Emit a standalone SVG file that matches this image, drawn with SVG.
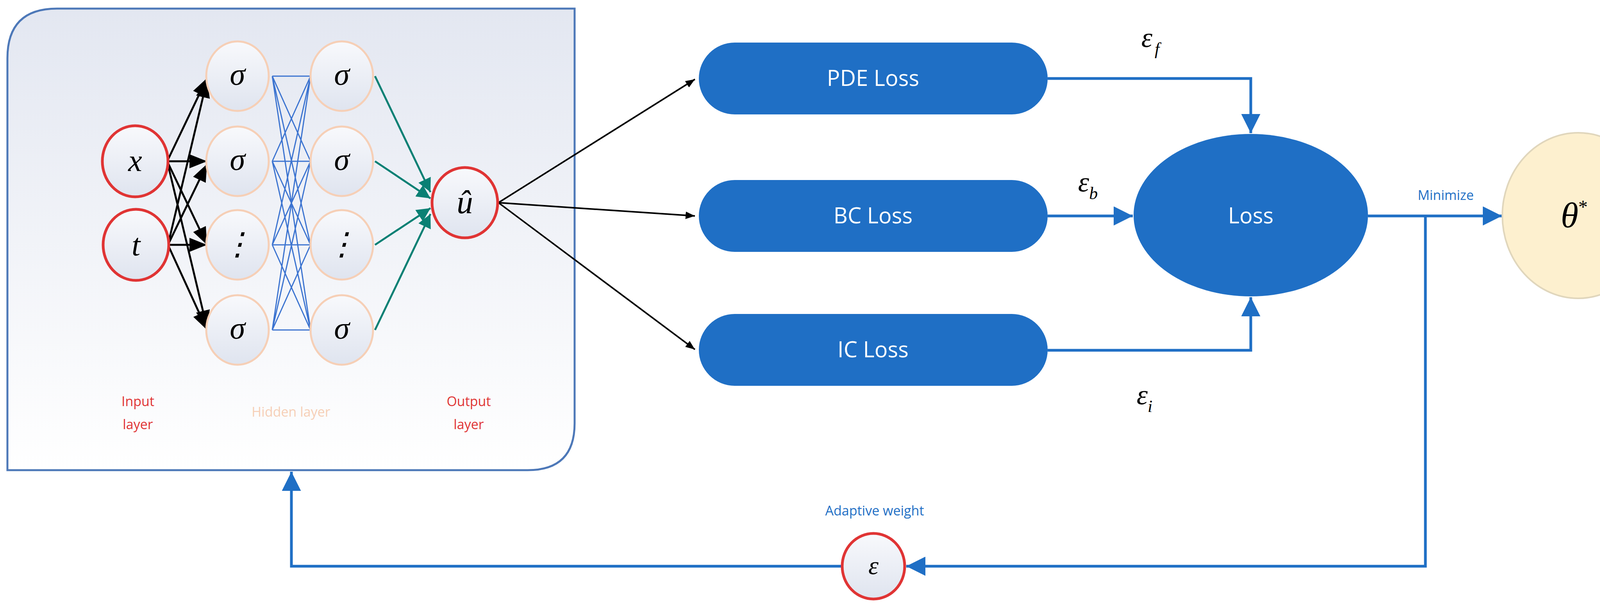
<svg xmlns="http://www.w3.org/2000/svg" width="4247" height="1557" viewBox="0 0 4247 1557">
<defs>
<linearGradient id="pg" x1="0" y1="0" x2="0" y2="1"><stop offset="0" stop-color="#e3e7f1"/><stop offset="1" stop-color="#ffffff"/></linearGradient>
<linearGradient id="ng" x1="0" y1="0" x2="0" y2="1"><stop offset="0" stop-color="#f8f9fc"/><stop offset="1" stop-color="#dfe4ef"/></linearGradient>
<marker id="ab" viewBox="0 0 10 10" refX="10" refY="5" markerWidth="6" markerHeight="6" orient="auto" markerUnits="strokeWidth"><path d="M0,1 L10,5 L0,9 z" fill="#000"/></marker>
<marker id="abk" viewBox="0 0 10 10" refX="10" refY="5" markerWidth="9" markerHeight="9" orient="auto" markerUnits="strokeWidth"><path d="M0,1 L10,5 L0,9 z" fill="#000"/></marker>
<marker id="at" viewBox="0 0 10 10" refX="10" refY="5" markerWidth="7" markerHeight="7" orient="auto" markerUnits="strokeWidth"><path d="M0,0 L10,5 L0,10 z" fill="#0a8074"/></marker>
<marker id="abl" viewBox="0 0 10 10" refX="10" refY="5" markerWidth="7" markerHeight="7" orient="auto" markerUnits="strokeWidth"><path d="M0,0 L10,5 L0,10 z" fill="#1f6fc5"/></marker>
</defs>
<style>
.io{fill:url(#ng);stroke:#e03434;stroke-width:7}
.hd{fill:url(#ng);stroke:#f6cfb6;stroke-width:5}
.m{font-family:"Liberation Serif",serif;font-style:italic;fill:#000;text-anchor:middle}
.box{fill:#1f6fc5}
.wt{font-family:"Open Sans","Liberation Sans",sans-serif;fill:#fff;font-size:56px;text-anchor:middle}
.lbl{font-family:"Open Sans","Liberation Sans",sans-serif;font-size:34px;text-anchor:middle}
.blu{stroke:#1f6fc5;stroke-width:7;fill:none}
.hl{stroke:#3b73d0;stroke-width:3;fill:none}
</style>
<rect width="4247" height="1557" fill="#fff"/>
<g id="panel">
<path d="M19,1204 V149 Q19,22 146,22 H1471 V1084 Q1471,1204 1351,1204 Z" fill="url(#pg)" stroke="#4d78b8" stroke-width="5"/>
</g>
<g id="connectors">
<g stroke="#000" stroke-width="5" marker-end="url(#abk)">
<line x1="428" y1="413" x2="530" y2="200"/><line x1="428" y1="413" x2="530" y2="413"/><line x1="428" y1="413" x2="530" y2="627"/><line x1="428" y1="413" x2="530" y2="840"/>
<line x1="430" y1="627" x2="530" y2="205"/><line x1="430" y1="627" x2="530" y2="420"/><line x1="430" y1="627" x2="530" y2="627"/><line x1="430" y1="627" x2="530" y2="845"/>
</g>
<g class="hl">
<path d="M697,195 L795,195 M697,413 L795,413 M697,627 L795,627 M697,845 L795,845
M697,195 L795,413 M697,195 L795,627 M697,195 L795,845
M697,413 L795,195 M697,413 L795,627 M697,413 L795,845
M697,627 L795,195 M697,627 L795,413 M697,627 L795,845
M697,845 L795,195 M697,845 L795,413 M697,845 L795,627"/>
</g>
<g stroke="#0a8074" stroke-width="5" marker-end="url(#at)">
<line x1="960" y1="195" x2="1102" y2="492"/><line x1="960" y1="413" x2="1102" y2="508"/><line x1="960" y1="627" x2="1102" y2="533"/><line x1="960" y1="845" x2="1102" y2="548"/>
</g>
<g stroke="#000" stroke-width="4" marker-end="url(#ab)">
<line x1="1276" y1="519" x2="1779" y2="203"/><line x1="1276" y1="519" x2="1779" y2="553"/><line x1="1276" y1="519" x2="1779" y2="895"/>
</g>
<g class="blu" marker-end="url(#abl)">
<path d="M2682,201 H3202 V341"/>
<path d="M2682,553 H2900"/>
<path d="M2682,897 H3202 V761"/>
<path d="M3502,553 H3845"/>
<path d="M3649,553 V1450 H2320"/>
<path d="M2155,1450 H746 V1208"/>
</g>
</g>
<g id="n-x"><ellipse class="io" cx="346" cy="413" rx="84" ry="91"/><text class="m" x="346" y="438" font-size="80">x</text></g>
<g id="n-t"><ellipse class="io" cx="348" cy="627" rx="84" ry="91"/><text class="m" x="348" y="654" font-size="80">t</text></g>
<g id="hidden">
<ellipse class="hd" cx="608" cy="195" rx="80" ry="89"/><text class="m" x="608" y="217" font-size="80">σ</text>
<ellipse class="hd" cx="608" cy="413" rx="80" ry="89"/><text class="m" x="608" y="435" font-size="80">σ</text>
<ellipse class="hd" cx="608" cy="627" rx="80" ry="89"/><text class="m" x="608" y="652" font-size="80" font-style="normal">⋮</text>
<ellipse class="hd" cx="608" cy="845" rx="80" ry="89"/><text class="m" x="608" y="867" font-size="80">σ</text>
<ellipse class="hd" cx="875" cy="195" rx="80" ry="89"/><text class="m" x="875" y="217" font-size="80">σ</text>
<ellipse class="hd" cx="875" cy="413" rx="80" ry="89"/><text class="m" x="875" y="435" font-size="80">σ</text>
<ellipse class="hd" cx="875" cy="627" rx="80" ry="89"/><text class="m" x="875" y="652" font-size="80" font-style="normal">⋮</text>
<ellipse class="hd" cx="875" cy="845" rx="80" ry="89"/><text class="m" x="875" y="867" font-size="80">σ</text>
</g>
<g id="n-u"><ellipse class="io" cx="1190" cy="519" rx="84" ry="90"/><text class="m" x="1190" y="546" font-size="84">û</text></g>
<g id="layer-labels">
<text class="lbl" fill="#e03434" x="353" y="1040">Input</text><text class="lbl" fill="#e03434" x="353" y="1099">layer</text>
<text class="lbl" fill="#f6cfb6" x="745" y="1067">Hidden layer</text>
<text class="lbl" fill="#e03434" x="1200" y="1040">Output</text><text class="lbl" fill="#e03434" x="1200" y="1099">layer</text>
</g>
<g id="pde"><rect class="box" x="1789" y="109" width="893" height="184" rx="92"/><text class="wt" x="2235" y="220">PDE Loss</text></g>
<g id="bc"><rect class="box" x="1789" y="461" width="893" height="184" rx="92"/><text class="wt" x="2235" y="572">BC Loss</text></g>
<g id="ic"><rect class="box" x="1789" y="804" width="893" height="184" rx="92"/><text class="wt" x="2235" y="915">IC Loss</text></g>
<g id="loss"><ellipse class="box" cx="3202" cy="551" rx="300" ry="208"/><text class="wt" x="3202" y="572">Loss</text></g>
<g id="theta"><ellipse cx="4040" cy="552" rx="194" ry="212" fill="#fdf0cf" stroke="#e0d6bc" stroke-width="4"/><text class="m" x="4030" y="582" font-size="92">θ<tspan font-size="48" dy="-36" font-style="normal">*</tspan></text></g>
<g id="eps"><ellipse class="io" cx="2236" cy="1450" rx="80" ry="84" stroke-width="6"/><text class="m" x="2236" y="1470" font-size="66">ε</text></g>
<g id="labels">
<text class="m" x="2945" y="120" font-size="72">ε<tspan font-size="44" dy="20" dx="6">f</tspan></text>
<text class="m" x="2785" y="490" font-size="72">ε<tspan font-size="44" dy="20">b</tspan></text>
<text class="m" x="2930" y="1035" font-size="72">ε<tspan font-size="44" dy="20">i</tspan></text>
<text class="lbl" fill="#1f6fc5" x="3701" y="512" font-size="30">Minimize</text>
<text class="lbl" fill="#1f6fc5" x="2239" y="1320" font-size="30">Adaptive weight</text>
</g>
</svg>
